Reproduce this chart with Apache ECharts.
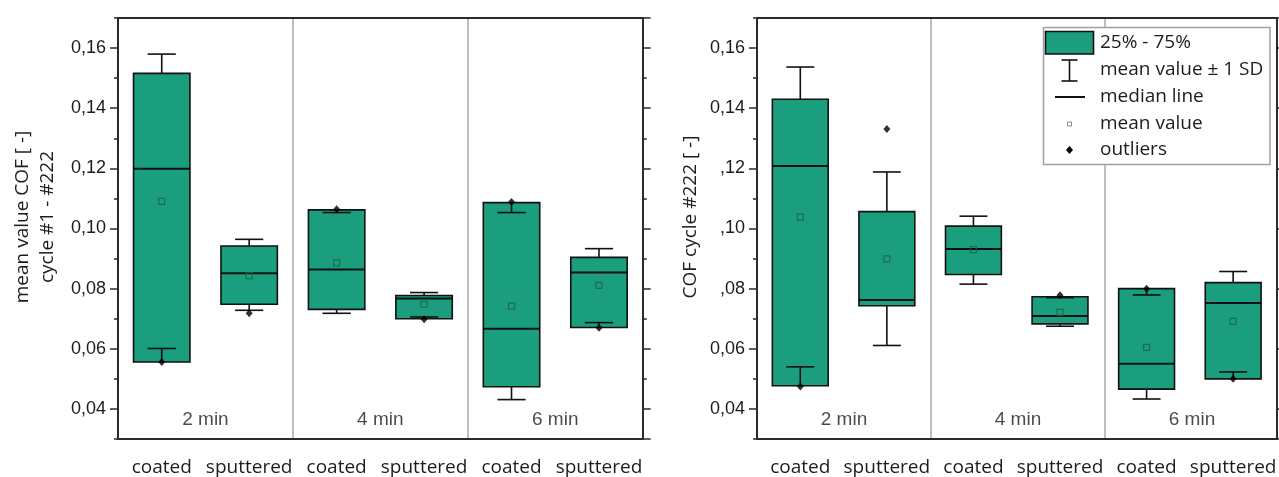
<!DOCTYPE html>
<html>
<head>
<meta charset="utf-8">
<script src="https://cdn.jsdelivr.net/npm/echarts@6/dist/echarts.min.js"></script>
<style>
html,body{margin:0;padding:0;background:#fff;}
#c{width:1279px;height:477px;}
</style>
</head>
<body>
<div id="c"></div>
<script>
// ---------- data ----------
const categories = ['coated', 'sputtered', 'coated', 'sputtered', 'coated', 'sputtered'];
const groups = ['2 min', '4 min', '6 min'];
const groupLabelY = 0.0365;

// left panel: mean value COF, cycle #1 - #222
const leftQ1     = [0.0556, 0.0748, 0.0731, 0.0700, 0.0474, 0.0671];
const leftQ3     = [0.1516, 0.0942, 0.1062, 0.0777, 0.1086, 0.0904];
const leftMedian = [0.1199, 0.0851, 0.0864, 0.0767, 0.0667, 0.0854];
const leftMean   = [0.1090, 0.0843, 0.0886, 0.0748, 0.0742, 0.0811];
const leftSdLow  = [0.0601, 0.0728, 0.0718, 0.0706, 0.0431, 0.0687];
const leftSdHigh = [0.1580, 0.0964, 0.1053, 0.0787, 0.1053, 0.0933];
const leftOutliers = [0.0556, 0.0718, 0.1064, 0.0698, 0.1088, 0.0670];

// right panel: COF cycle #222
const rightQ1     = [0.0477, 0.0743, 0.0847, 0.0683, 0.0466, 0.0500];
const rightQ3     = [0.1430, 0.1056, 0.1008, 0.0773, 0.0800, 0.0820];
const rightMedian = [0.1208, 0.0762, 0.0932, 0.0709, 0.0550, 0.0752];
const rightMean   = [0.1038, 0.0899, 0.0930, 0.0721, 0.0605, 0.0691];
const rightSdLow  = [0.0540, 0.0611, 0.0815, 0.0675, 0.0433, 0.0523];
const rightSdHigh = [0.1537, 0.1188, 0.1041, 0.0770, 0.0779, 0.0857];
const rightOutliers = [0.0475, 0.1331, null, 0.0778, 0.0800, 0.0500];

const yMin = 0.03, yMax = 0.17;
const legendLabels = ['25% - 75%', 'mean value \u00B1 1 SD', 'median line', 'mean value', 'outliers'];
const leftTitle = 'mean value COF [ -]\ncycle #1 - #222';
const rightTitle = 'COF cycle #222 [ -]';

// ---------- styles ----------
const GREEN = '#1a9e7d';
const AXIS = '#2b2b2b';
const SEP = '#a8a8a8';
const TXT = '#1c1c1c';

function boxData(q1, q3, med, mean, lo, hi) {
  return q1.map((v, i) => [i, v, q3[i], med[i], mean[i], lo[i], hi[i]]);
}

function renderBox(params, api) {
  const x = api.value(0);
  const pQ1 = api.coord([x, api.value(1)]);
  const pQ3 = api.coord([x, api.value(2)]);
  const pMed = api.coord([x, api.value(3)]);
  const pLo = api.coord([x, api.value(5)]);
  const pHi = api.coord([x, api.value(6)]);
  const bw = api.size([1, 0])[0] * 0.645;
  const cw = bw * 0.5;
  const cx = pQ1[0];
  const ls = {stroke: '#111', lineWidth: 1.6};
  return {
    type: 'group',
    children: [
      {type: 'rect', shape: {x: cx - bw / 2, y: pQ3[1], width: bw, height: pQ1[1] - pQ3[1]},
       style: {fill: GREEN, stroke: '#111', lineWidth: 1.6}},
      {type: 'line', shape: {x1: cx, y1: pQ3[1], x2: cx, y2: pHi[1]}, style: ls},
      {type: 'line', shape: {x1: cx, y1: pQ1[1], x2: cx, y2: pLo[1]}, style: ls},
      {type: 'line', shape: {x1: cx - cw / 2, y1: pHi[1], x2: cx + cw / 2, y2: pHi[1]}, style: ls},
      {type: 'line', shape: {x1: cx - cw / 2, y1: pLo[1], x2: cx + cw / 2, y2: pLo[1]}, style: ls},
      {type: 'line', shape: {x1: cx - bw / 2, y1: pMed[1], x2: cx + bw / 2, y2: pMed[1]},
       style: {stroke: '#111', lineWidth: 2}}
    ]
  };
}

const fmt = v => v.toFixed(2).replace('.', ',');

function panel(gA, gB, xBase, yBase, title, titleOpts, d) {
  const xAxes = [
    {gridIndex: gA, type: 'category', position: 'bottom', data: categories, boundaryGap: true,
     axisLine: {lineStyle: {color: AXIS, width: 2}},
     axisTick: {alignWithLabel: true, length: 8, lineStyle: {color: AXIS, width: 1.5}},
     axisLabel: {margin: 19, color: TXT, fontFamily: 'Open Sans', fontSize: 19, interval: 0}},
    {gridIndex: gA, type: 'category', position: 'top', data: categories, boundaryGap: true,
     axisLine: {lineStyle: {color: AXIS, width: 2}},
     axisTick: {alignWithLabel: true, length: 7, lineStyle: {color: AXIS, width: 1.5}},
     axisLabel: {show: false}},
    {gridIndex: gB, type: 'category', position: 'bottom', data: groups, boundaryGap: true,
     axisLine: {show: false}, axisTick: {show: false}, axisLabel: {show: false},
     splitLine: {show: true, showMinLine: false, showMaxLine: false, lineStyle: {color: SEP, width: 1.5}}}
  ];
  const yAxes = [
    Object.assign({gridIndex: gA, type: 'value', position: 'left', min: yMin, max: yMax, splitNumber: 7,
     axisLine: {show: true, lineStyle: {color: AXIS, width: 2}},
     axisTick: {show: true, length: 8, lineStyle: {color: AXIS, width: 1.5}},
     axisLabel: {margin: 12, color: TXT, fontFamily: 'Liberation Sans', fontSize: 18, formatter: fmt,
                 showMinLabel: false, showMaxLabel: false},
     splitLine: {show: false},
     name: title, nameLocation: 'middle', nameRotate: 90}, titleOpts),
    {gridIndex: gA, type: 'value', position: 'right', min: yMin, max: yMax, splitNumber: 7,
     axisLine: {show: true, lineStyle: {color: AXIS, width: 2}},
     axisTick: {show: true, length: 8, lineStyle: {color: AXIS, width: 1.5}},
     axisLabel: {show: false}, splitLine: {show: false}},
    {gridIndex: gB, type: 'value', position: 'left', min: yMin, max: yMax, interval: 0.01,
     axisLine: {show: false}, axisTick: {show: true, length: 4, lineStyle: {color: AXIS, width: 1.5}},
     axisLabel: {show: false}, splitLine: {show: false}},
    {gridIndex: gB, type: 'value', position: 'right', min: yMin, max: yMax, interval: 0.01,
     axisLine: {show: false}, axisTick: {show: true, length: 4, lineStyle: {color: AXIS, width: 1.5}},
     axisLabel: {show: false}, splitLine: {show: false}}
  ];
  const series = [
    {type: 'custom', name: '25% - 75%', xAxisIndex: xBase, yAxisIndex: yBase, z: 2,
     renderItem: renderBox, data: boxData(d.q1, d.q3, d.med, d.mean, d.lo, d.hi)},
    {type: 'scatter', name: 'mean value', xAxisIndex: xBase, yAxisIndex: yBase, z: 4,
     symbol: 'rect', symbolSize: 6,
     itemStyle: {color: 'rgba(0,0,0,0)', borderColor: '#1f5e4b', borderWidth: 1.2},
     data: d.mean.map((v, i) => [i, v])},
    {type: 'scatter', name: 'outliers', xAxisIndex: xBase, yAxisIndex: yBase, z: 5,
     symbol: 'diamond', symbolSize: [7, 8], itemStyle: {color: '#000'},
     data: d.out.map((v, i) => v == null ? null : [i, v]).filter(p => p)},
    {type: 'scatter', name: 'groups', xAxisIndex: xBase + 2, yAxisIndex: yBase + 2, z: 3,
     symbolSize: 1, itemStyle: {color: 'rgba(0,0,0,0)'}, silent: true,
     label: {show: true, position: 'inside', formatter: '{b}', color: TXT,
             fontFamily: 'Liberation Sans', fontSize: 19},
     data: groups.map(g => ({name: g, value: [g, groupLabelY]}))}
  ];
  return {xAxes, yAxes, series};
}

const titleStyle = {fontFamily: 'Open Sans', fontSize: 19, color: TXT, lineHeight: 25, padding: [0, 0, 0, 23]};
const L = panel(0, 1, 0, 0, leftTitle, {nameGap: 58, nameTextStyle: titleStyle},
  {q1: leftQ1, q3: leftQ3, med: leftMedian, mean: leftMean, lo: leftSdLow, hi: leftSdHigh, out: leftOutliers});
const R = panel(2, 3, 3, 4, rightTitle, {nameGap: 54, nameTextStyle: titleStyle},
  {q1: rightQ1, q3: rightQ3, med: rightMedian, mean: rightMean, lo: rightSdLow, hi: rightSdHigh, out: rightOutliers});

// legend drawn as graphic
const lgX = 1043.5, lgY = 27.5;
const rowY = [43, 70, 97, 124, 150];
const legendGraphic = [
  // white patch of the title box that hides the first digit of some tick labels
  {type: 'rect', shape: {x: 705, y: 122, width: 16, height: 180}, style: {fill: '#fff'}, z: 50},
  {type: 'rect', shape: {x: lgX, y: lgY, width: 226.5, height: 137}, style: {fill: '#fff', stroke: '#a0a0a0', lineWidth: 1.5}, z: 100},
  {type: 'rect', shape: {x: 1045.5, y: 31.5, width: 48, height: 22.5}, style: {fill: GREEN, stroke: '#111', lineWidth: 1.6}, z: 101},
  {type: 'line', shape: {x1: 1069.5, y1: 60, x2: 1069.5, y2: 81}, style: {stroke: '#111', lineWidth: 1.6}, z: 101},
  {type: 'line', shape: {x1: 1061.5, y1: 60, x2: 1077.5, y2: 60}, style: {stroke: '#111', lineWidth: 1.6}, z: 101},
  {type: 'line', shape: {x1: 1061.5, y1: 81, x2: 1077.5, y2: 81}, style: {stroke: '#111', lineWidth: 1.6}, z: 101},
  {type: 'line', shape: {x1: 1055, y1: 97, x2: 1085, y2: 97}, style: {stroke: '#111', lineWidth: 2}, z: 101},
  {type: 'rect', shape: {x: 1067.5, y: 122, width: 4, height: 4}, style: {fill: 'none', stroke: '#8a8a8a', lineWidth: 1}, z: 101},
  {type: 'polygon', shape: {points: [[1069.5, 146], [1073, 150], [1069.5, 154], [1066, 150]]}, style: {fill: '#000'}, z: 101}
].concat(legendLabels.map((t, i) => ({
  type: 'text', x: 1100, y: rowY[i], z: 101,
  style: {text: t, fill: TXT, font: '19px "Open Sans"', verticalAlign: 'middle', align: 'left'}
})));

const option = {
  animation: false,
  backgroundColor: '#fff',
  grid: [
    {left: 118, top: 18, width: 524.7, height: 421},
    {left: 118, top: 18, width: 524.7, height: 421},
    {left: 757, top: 18, width: 525, height: 421},
    {left: 757, top: 18, width: 525, height: 421}
  ],
  xAxis: L.xAxes.concat(R.xAxes),
  yAxis: L.yAxes.concat(R.yAxes),
  series: L.series.concat(R.series),
  graphic: legendGraphic
};

const chart = echarts.init(document.getElementById('c'), null, {renderer: 'canvas'});
chart.setOption(option);
</script>
</body>
</html>
